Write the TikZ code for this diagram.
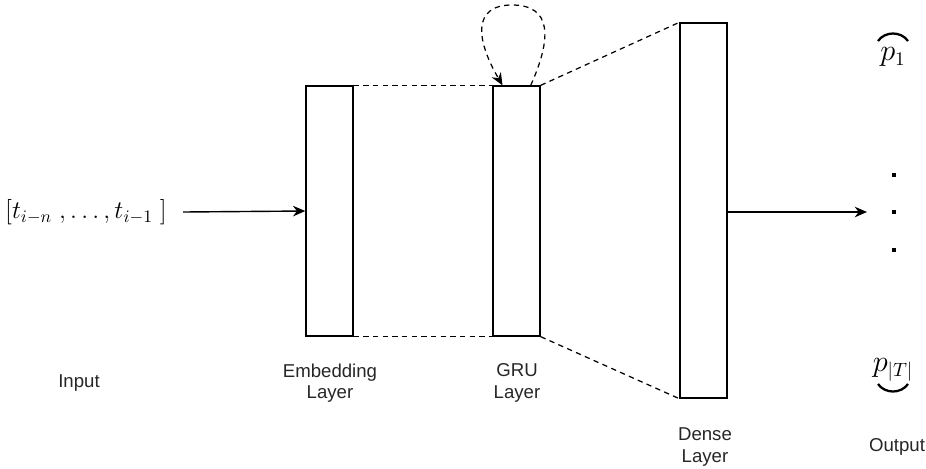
\documentclass[tikz,border=0pt]{standalone}
\usepackage{amsmath}
\usepackage{fontspec}
\setsansfont{Liberation Sans}
\usepackage{tikz}
\usetikzlibrary{arrows.meta,positioning}

\tikzset{
  layer/.style={draw, line width=0.8pt, minimum width=0.94cm, inner sep=0pt},
  lbl/.style={font=\sffamily\fontsize{10.6}{12.2}\selectfont, text=black!85, align=center},
  link/.style={dashed, dash pattern=on 3pt off 2.5pt, line width=0.7pt},
  flow/.style={line width=0.8pt, -{Stealth[length=7pt,width=6pt]}}
}

\begin{document}
\begin{tikzpicture}[x=0.02cm, y=-0.02cm]
        \useasboundingbox (0, 0) rectangle (926, 468);

        % the three layers
        \node[layer, minimum height=5cm] (emb) at (329.5, 211) {};
        \node[layer, minimum height=5cm] (gru) at (516.5, 211) {};
        \node[layer, minimum height=7.5cm] (dense) at (703.5, 210.5) {};

        % input sequence and output vector
        \node (in) at (86, 212) {\fontsize{14}{17}\selectfont $[t_{i-n}\;, \ldots, t_{i-1}\;]$};
        \coordinate (out) at (867, 212);
        \node (p1) at (893, 57) {\fontsize{16}{19}\selectfont $p_1$};
        \node (pT) at (893, 370) {\fontsize{16}{19}\selectfont $p_{|T|}$};
        \draw[line width=1.3pt] (878, 41) .. controls (885, 31) and (901, 31) .. (908, 41);
        \draw[line width=1.3pt] (878, 384) .. controls (885, 394) and (901, 394) .. (908, 384);
        \foreach \y in {175, 212, 250}
          \fill (892, \y-2) rectangle (896, \y+2);

        % arrows
        \draw[flow] (in.east -| 183, 212) -- (emb.west);
        \draw[flow] (dense.east |- out) -- (out);

        % dashed connections between layers
        \draw[link] (emb.north east) -- (gru.north west);
        \draw[link] (emb.south east) -- (gru.south west);
        \draw[link] (gru.north east) -- (dense.north west);
        \draw[link] (gru.south east) -- (dense.south west);

        % recurrence on the GRU layer
        \draw[link, -{Stealth[length=7pt,width=6pt]}]
          ([xshift=-0.2cm]gru.north east) .. controls (552, 38) and (552, 5) .. (512, 5)
          .. controls (472, 5) and (476, 40) .. ([xshift=-0.28cm]gru.north);

        % captions
        \node[lbl] (inlbl) at (79, 383) {Input};
        \node[lbl] (emblbl) at (330, 383) {Embedding\\Layer};
        \node[lbl] (grulbl) at (517, 383) {GRU\\Layer};
        \node[lbl] (denselbl) at (705, 447) {Dense\\Layer};
        \node[lbl] (outlbl) at (897, 447) {Output};
      \end{tikzpicture}
\end{document}
